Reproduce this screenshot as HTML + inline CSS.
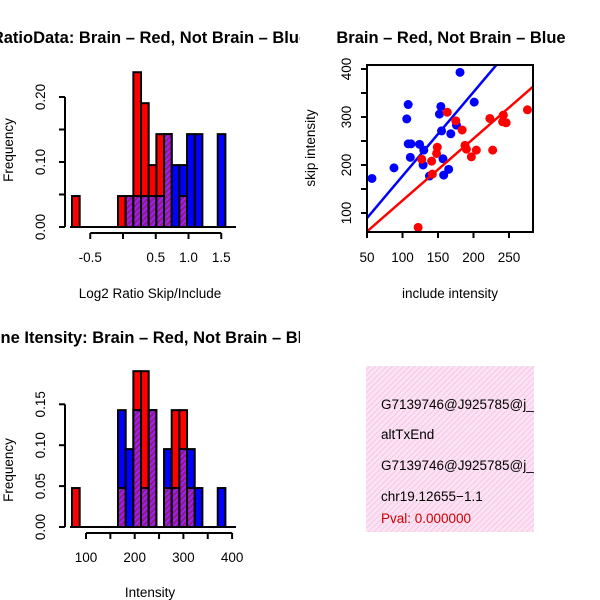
<!DOCTYPE html>
<html><head><meta charset="utf-8"><style>
body{margin:0;background:#fff;}
svg{display:block;font-family:"Liberation Sans",sans-serif;}
.t{font-weight:bold;font-size:16.5px;}
.l{font-size:13.5px;}
</style></head><body>
<svg id="c" width="600" height="600" viewBox="0 0 600 600">
<defs>
<pattern id="hatch" width="4" height="4" patternUnits="userSpaceOnUse" patternTransform="rotate(45)">
<rect width="4" height="4" fill="#a020f0"/><rect width="2" height="4" fill="#8b1a8b"/>
</pattern>
<pattern id="pinkh" width="4" height="4" patternUnits="userSpaceOnUse" patternTransform="rotate(45)">
<rect width="4" height="4" fill="#fbe3f3"/><rect width="1" height="4" fill="#f6c6e6"/>
</pattern>
<clipPath id="q1"><rect x="0" y="0" width="300" height="300"/></clipPath>
<clipPath id="q3"><rect x="0" y="300" width="300" height="300"/></clipPath>
<clipPath id="q4"><rect x="366" y="366" width="168" height="166"/></clipPath>
</defs>
<text class="t" x="150" y="43" text-anchor="middle" clip-path="url(#q1)">RatioData: Brain – Red, Not Brain – Blue</text>
<text class="t" x="451" y="43" text-anchor="middle">Brain – Red, Not Brain – Blue</text>
<text class="t" x="150" y="343" text-anchor="middle" clip-path="url(#q3)">Gene Itensity: Brain – Red, Not Brain – Blue</text>
<text class="l" x="13" y="150" text-anchor="middle" transform="rotate(-90 13 150)">Frequency</text>
<text class="l" x="150" y="298" text-anchor="middle">Log2 Ratio Skip/Include</text>
<text class="l" x="315" y="148" text-anchor="middle" transform="rotate(-90 315 148)">skip intensity</text>
<text class="l" x="450" y="298" text-anchor="middle">include intensity</text>
<text class="l" x="13" y="470" text-anchor="middle" transform="rotate(-90 13 470)">Frequency</text>
<text class="l" x="150" y="597" text-anchor="middle">Intensity</text>
<g clip-path="url(#q4)">
<rect x="366" y="366" width="168" height="166" fill="url(#pinkh)"/>
<text class="l" x="381" y="409">G7139746@J925785@j_</text>
<text class="l" x="381" y="439">altTxEnd</text>
<text class="l" x="381" y="470">G7139746@J925785@j_</text>
<text class="l" x="381" y="501">chr19.12655−1.1</text>
<text class="l" x="381" y="523" fill="#cc0000">Pval: 0.000000</text>
</g>
<g id="p1"></g><g id="p2"></g><g id="p3"></g>
</svg>
<script>
// ratio histogram (counts out of 21)
const ratioRed  = [1,0,0,0,0,0,1,1,5,4,2,3,3,0,1,0,0,0,0,0];
const ratioBlue = [0,0,0,0,0,0,0,1,1,1,1,1,3,2,2,3,3,0,0,3];
const ratioXTicks = [-0.5,0,0.5,1.0,1.5];
const ratioXLabels = ["-0.5","","0.5","1.0","1.5"];
const ratioYTicks = [0,0.05,0.10,0.15,0.20];
const ratioYLabels = ["0.00","","0.10","","0.20"];
// intensity histogram
const intRed  = [1,0,0,0,0,0,1,0,4,4,3,0,1,3,3,1,0,0,0,0];
const intBlue = [0,0,0,0,0,0,3,2,3,1,3,0,2,1,2,2,1,0,0,1];
const intXTicks = [100,150,200,250,300,350,400];
const intXLabels = ["100","","200","","300","","400"];
const intYTicks = [0,0.05,0.10,0.15];
const intYLabels = ["0.00","0.05","0.10","0.15"];
// scatter
const blueX = [57,88,106,108,108,112,111,124,130,129,138,154,152,155,157,158,165,168,176,181,201];
const blueY = [172,194,296,326,244,244,216,243,231,200,177,322,306,271,213,179,191,265,283,393,331];
const redX = [122,127,141,142,149,148,163,175,184,188,190,197,204,227,223,242,241,246,276];
const redY = [70,212,208,181,237,224,310,292,273,241,233,217,231,231,297,304,290,288,315];
// regression lines [intercept, slope]
const blueLine = [2, 1.75];
const redLine = [-3, 1.29];
const scXTicks = [50,100,150,200,250];
const scYTicks = [100,150,200,250,300,350,400];
const scYLabels = ["100","","200","","300","","400"];
const NS="http://www.w3.org/2000/svg";
function mk(p,tag,a){const e=document.createElementNS(NS,tag);for(const k in a)e.setAttribute(k,a[k]);p.appendChild(e);return e;}
function hist(g,red,blue,n,x0,bw,yb,ypc,prefix){
  red.forEach((r,i)=>{
    const b=blue[i];const mx=Math.max(r,b),mn=Math.min(r,b);
    if(mx===0)return;
    const x=x0+bw*i;
    const e=mk(g,'rect',{x:x,y:yb-mx*ypc,width:bw,height:mx*ypc,fill:r>=b?'#ff0000':'#0000ff',stroke:'#000','stroke-width':2});
    
    
    if(mn>0){
      const o=mk(g,'rect',{x:x,y:yb-mn*ypc,width:bw,height:mn*ypc,fill:'url(#hatch)',stroke:'#000','stroke-width':2});
      
      
    }
  });
}
function yaxis(g,x,ticks,labels,sy,prefix){
  const l=mk(g,'line',{x1:x,x2:x,y1:sy(ticks[0]),y2:sy(ticks[ticks.length-1]),stroke:'#000','stroke-width':2});
  
  
  ticks.forEach((t,i)=>{
    mk(g,'line',{x1:x-6,x2:x,y1:sy(t),y2:sy(t),stroke:'#000','stroke-width':2});
    if(labels[i]){const tx=mk(g,'text',{x:x-20,y:sy(t),'text-anchor':'middle','font-size':13.5,transform:`rotate(-90 ${x-20} ${sy(t)})`});tx.textContent=labels[i];
      
      }
  });
}
function xaxis(g,y,ticks,labels,sx,prefix){
  const l=mk(g,'line',{x1:sx(ticks[0]),x2:sx(ticks[ticks.length-1]),y1:y,y2:y,stroke:'#000','stroke-width':2});
  
  
  ticks.forEach((t,i)=>{
    mk(g,'line',{x1:sx(t),x2:sx(t),y1:y,y2:y+6,stroke:'#000','stroke-width':2});
    if(labels[i]){const tx=mk(g,'text',{x:sx(t),y:y+29,'text-anchor':'middle','font-size':13.5});tx.textContent=labels[i];
      
      }
  });
}
// panel 1
const g1=document.getElementById('p1');
const r1=v=>227-v*650;
hist(g1,ratioRed,ratioBlue,21,72,7.67,227,650/21,'ratio');
mk(g1,'line',{x1:70,x2:236,y1:227,y2:227,stroke:'#000','stroke-width':2});
yaxis(g1,65,ratioYTicks,ratioYLabels,r1,'ratio');
xaxis(g1,233,ratioXTicks,ratioXLabels,v=>123+v*65.5,'ratio');
// panel 3
const g3=document.getElementById('p3');
const r3=v=>527-v*818;
hist(g3,intRed,intBlue,21,72,7.67,527,818/21,'intensity');
mk(g3,'line',{x1:70,x2:236,y1:527,y2:527,stroke:'#000','stroke-width':2});
yaxis(g3,65,intYTicks,intYLabels,r3,'intensity');
xaxis(g3,533,intXTicks,intXLabels,v=>86+(v-100)*0.487,'intensity');
// panel 2
const g2=document.getElementById('p2');
const sx=v=>367+(v-50)*0.71, sy=v=>69+(400-v)*0.48;
const clip=mk(document.querySelector('defs'),'clipPath',{id:'sc'});
mk(clip,'rect',{x:367,y:65,width:166,height:167});
function pts(X,Y,L,col,name){
  X.forEach((x,i)=>{const c=mk(g2,'circle',{cx:sx(x),cy:sy(Y[i]),r:4.5,fill:col});
    
    });
  const [a,b]=L;
  const ln=mk(g2,'line',{x1:sx(30),y1:sy(a+b*30),x2:sx(300),y2:sy(a+b*300),stroke:col,'stroke-width':2.5,'clip-path':'url(#sc)'});
  
  
}
pts(blueX,blueY,blueLine,'#0000ff','blue');
pts(redX,redY,redLine,'#ff0000','red');
const box=mk(g2,'rect',{x:367,y:65,width:166,height:167,fill:'none',stroke:'#000','stroke-width':2});


scXTicks.forEach(t=>{mk(g2,'line',{x1:sx(t),x2:sx(t),y1:232,y2:238,stroke:'#000','stroke-width':2});
  const tx=mk(g2,'text',{x:sx(t),y:262,'text-anchor':'middle','font-size':13.5});tx.textContent=t;
  
  });
scYTicks.forEach((t,i)=>{mk(g2,'line',{x1:361,x2:367,y1:sy(t),y2:sy(t),stroke:'#000','stroke-width':2});
  if(scYLabels[i]){const tx=mk(g2,'text',{x:351,y:sy(t),'text-anchor':'middle','font-size':13.5,transform:`rotate(-90 351 ${sy(t)})`});tx.textContent=scYLabels[i];
  
  }});
</script>
</body></html>
